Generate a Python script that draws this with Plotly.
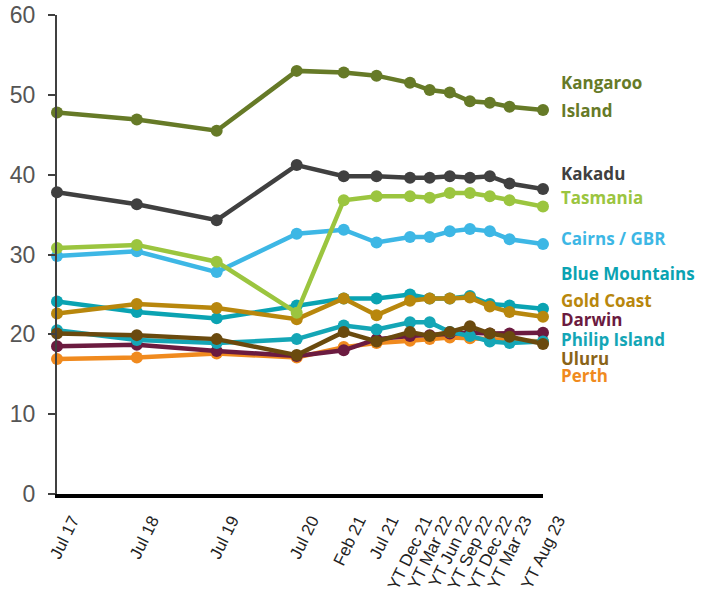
import plotly.graph_objects as go

dates = ["2017-07-01", "2018-07-01", "2019-07-01", "2020-07-01", "2021-02-01",
         "2021-07-01", "2021-12-01", "2022-03-01", "2022-06-01", "2022-09-01",
         "2022-12-01", "2023-03-01", "2023-08-01"]
tick_labels = ["Jul 17", "Jul 18", "Jul 19", "Jul 20", "Feb 21", "Jul 21",
               "YT Dec 21", "YT Mar 22", "YT Jun 22", "YT Sep 22", "YT Dec 22",
               "YT Mar 23", "YT Aug 23"]

kangaroo = [47.8, 46.9, 45.5, 53.0, 52.8, 52.4, 51.5, 50.6, 50.3, 49.2, 49.0, 48.5, 48.1]
kakadu = [37.8, 36.3, 34.3, 41.2, 39.8, 39.8, 39.6, 39.6, 39.8, 39.6, 39.8, 38.9, 38.2]
tasmania = [30.8, 31.2, 29.1, 22.7, 36.8, 37.3, 37.3, 37.1, 37.7, 37.7, 37.3, 36.8, 36.0]
cairns = [29.8, 30.4, 27.8, 32.6, 33.1, 31.5, 32.2, 32.2, 32.9, 33.2, 32.9, 31.9, 31.3]
blue_mountains = [24.1, 22.8, 22.0, 23.6, 24.5, 24.5, 25.0, 24.5, 24.5, 24.8, 23.8, 23.6, 23.2]
gold_coast = [22.6, 23.8, 23.3, 21.9, 24.5, 22.4, 24.2, 24.5, 24.5, 24.6, 23.5, 22.8, 22.2]
darwin = [18.5, 18.7, 17.9, 17.3, 18.0, 19.4, 19.8, 19.9, 20.1, 20.2, 20.1, 20.1, 20.2]
philip_island = [20.5, 19.3, 18.9, 19.4, 21.1, 20.6, 21.5, 21.5, 20.3, 19.8, 19.1, 18.9, 19.1]
uluru = [20.1, 19.9, 19.4, 17.4, 20.3, 19.1, 20.3, 19.8, 20.3, 21.0, 20.1, 19.7, 18.8]
perth = [16.9, 17.1, 17.6, 17.1, 18.4, 18.9, 19.2, 19.4, 19.6, 19.5, 19.4, 19.3, 19.1]

series = [
    ("Perth", perth, "#F08A1E"),
    ("Darwin", darwin, "#6B1B40"),
    ("Philip Island", philip_island, "#14A6B6"),
    ("Uluru", uluru, "#6A4A0E"),
    ("Blue Mountains", blue_mountains, "#0AA3B2"),
    ("Gold Coast", gold_coast, "#B8870D"),
    ("Cairns / GBR", cairns, "#3DB7E5"),
    ("Tasmania", tasmania, "#9BC53F"),
    ("Kakadu", kakadu, "#404040"),
    ("Kangaroo Island", kangaroo, "#667A27"),
]

# label text, colour, vertical position (data units) of the right-hand labels
labels = [
    ("Kangaroo", "#667A27", 51.6),
    ("Island", "#667A27", 48.1),
    ("Kakadu", "#404040", 40.2),
    ("Tasmania", "#9BC53F", 37.2),
    ("Cairns / GBR", "#3DB7E5", 32.0),
    ("Blue Mountains", "#0AA3B2", 27.6),
    ("Gold Coast", "#B8870D", 24.3),
    ("Darwin", "#6B1B40", 21.9),
    ("Philip Island", "#14A6B6", 19.3),
    ("Uluru", "#8A6418", 17.0),
    ("Perth", "#F08A1E", 14.8),
]

fig = go.Figure()
for name, vals, col in series:
    fig.add_trace(go.Scatter(
        x=dates, y=vals, name=name, mode="lines+markers",
        line=dict(color=col, width=4.5),
        marker=dict(color=col, size=12),
        cliponaxis=False, showlegend=False,
    ))

for text, col, yv in labels:
    fig.add_annotation(
        x=1, xref="paper", y=yv, yref="y", xanchor="left", yanchor="middle",
        xshift=17, text="<b>" + text + "</b>", showarrow=False, align="left",
        borderpad=0,
        font=dict(family="Open Sans", size=17, color=col),
    )

fig.update_layout(
    width=702, height=598,
    margin=dict(l=57, r=159, t=15, b=104),
    plot_bgcolor="white", paper_bgcolor="white",
    xaxis=dict(
        type="date", range=[dates[0], dates[-1]], automargin=False,
        tickvals=dates, ticktext=tick_labels, tickangle=-64,
        tickfont=dict(family="Liberation Sans", size=17, color="#222222"),
        showgrid=False, zeroline=False, showline=True, linecolor="black",
        linewidth=3.5, ticks="", ticklabelshift=15, ticklabelstandoff=6,
    ),
    yaxis=dict(
        range=[0, 60], tickvals=[0, 10, 20, 30, 40, 50, 60], automargin=False,
        tickfont=dict(family="Liberation Sans", size=23, color="#555555"),
        showgrid=False, zeroline=False, showline=True, linecolor="#404040",
        linewidth=2, ticks="outside", ticklen=7, tickcolor="#404040",
        tickwidth=1.5, ticklabelstandoff=8,
    ),
)

fig.write_html("out.html")
